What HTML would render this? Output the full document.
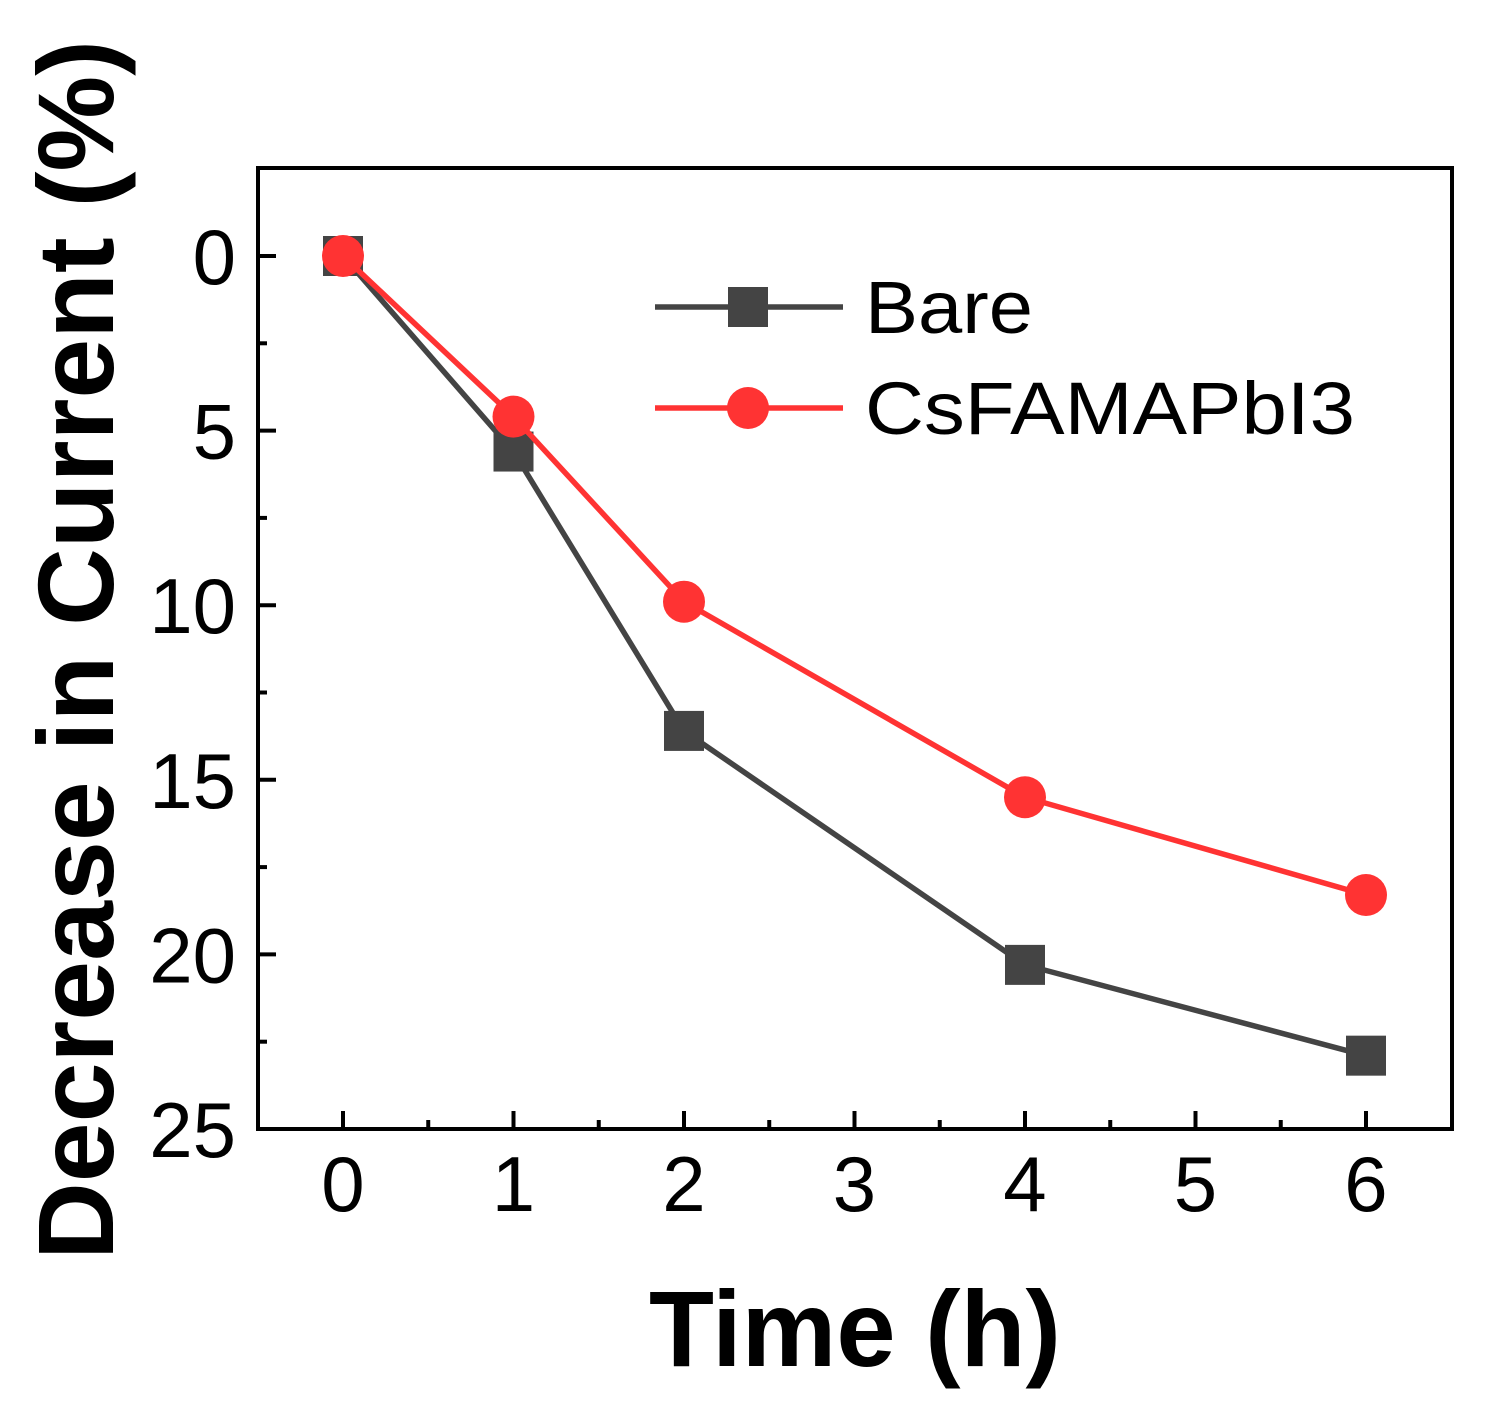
<!DOCTYPE html>
<html><head><meta charset="utf-8"><style>body{margin:0;background:#fff}svg{display:block}</style></head>
<body>
<svg id="chart" width="1485" height="1419" xmlns="http://www.w3.org/2000/svg" font-family="Liberation Sans, Arial, sans-serif">
<rect width="1485" height="1419" fill="#fff"/>
<g id="marks"></g>
<rect x="258" y="168" width="1194" height="961" fill="none" stroke="#000" stroke-width="4"/>
<g id="axes"></g>
<text x="855" y="1366" font-size="108" font-weight="bold" text-anchor="middle" textLength="412" lengthAdjust="spacingAndGlyphs">Time (h)</text>
<text transform="translate(113,650) rotate(-90)" font-size="108" font-weight="bold" text-anchor="middle" textLength="1220" lengthAdjust="spacingAndGlyphs">Decrease in Current (%)</text>
<g>
<line x1="655" y1="307" x2="843" y2="307" stroke="#444" stroke-width="5.5"/>
<rect x="728" y="287" width="40" height="40" fill="#444"/>
<text x="865" y="333" font-size="74" textLength="168" lengthAdjust="spacingAndGlyphs">Bare</text>
<line x1="655" y1="408" x2="843" y2="408" stroke="#f33" stroke-width="5.5"/>
<circle cx="748" cy="408" r="21" fill="#f33"/>
<text x="865" y="434" font-size="74" textLength="490" lengthAdjust="spacingAndGlyphs">CsFAMAPbI3</text>
</g>
</svg>
<script>
const times = [0, 1, 2, 4, 6];
const bareValues = [0, 5.6, 13.6, 20.3, 22.9];
const csValues = [0, 4.6, 9.9, 15.5, 18.3];
const xTicks = [0, 1, 2, 3, 4, 5, 6];
const yTicks = [0, 5, 10, 15, 20, 25];

const NS = 'http://www.w3.org/2000/svg';
const xs = v => 343 + v * 170.5;
const ys = v => 256 + v * 34.92;
const marks = document.getElementById('marks');
const axes = document.getElementById('axes');
function mk(tag, attrs, parent) {
  const e = document.createElementNS(NS, tag);
  for (const k in attrs) e.setAttribute(k, attrs[k]);
  parent.appendChild(e);
  return e;
}
xTicks.forEach(t => {
  const l = mk('line', {x1: xs(t), x2: xs(t), y1: 1129, y2: 1111, stroke: '#000', 'stroke-width': 4}, axes);
  
  
  if (t < 6) {
    const m = mk('line', {x1: xs(t + 0.5), x2: xs(t + 0.5), y1: 1129, y2: 1120, stroke: '#000', 'stroke-width': 4}, axes);
    
    
  }
  const tx = mk('text', {x: xs(t), y: 1211, 'font-size': 78, 'text-anchor': 'middle'}, axes);
  
  
  tx.textContent = t;
});
yTicks.forEach(t => {
  const l = mk('line', {x1: 258, x2: 276, y1: ys(t), y2: ys(t), stroke: '#000', 'stroke-width': 4}, axes);
  
  
  if (t < 25) {
    const m = mk('line', {x1: 258, x2: 267, y1: ys(t + 2.5), y2: ys(t + 2.5), stroke: '#000', 'stroke-width': 4}, axes);
    
    
  }
  const tx = mk('text', {x: 236, y: ys(t) + 28, 'font-size': 78, 'text-anchor': 'end'}, axes);
  
  
  tx.textContent = t;
});
function series(vals, color, shape, name) {
  const pts = times.map((t, i) => xs(t) + ',' + ys(vals[i])).join(' ');
  const pl = mk('polyline', {points: pts, fill: 'none', stroke: color, 'stroke-width': 5.5}, marks);
  
  
  times.forEach((t, i) => {
    let e;
    if (shape === 'square') e = mk('rect', {x: xs(t) - 20, y: ys(vals[i]) - 20, width: 40, height: 40, fill: color}, marks);
    else e = mk('circle', {cx: xs(t), cy: ys(vals[i]), r: 21, fill: color}, marks);
    
    
  });
}
series(bareValues, '#444', 'square', 'bare');
series(csValues, '#f33', 'circle', 'csfamapbi3');
</script>
</body></html>
